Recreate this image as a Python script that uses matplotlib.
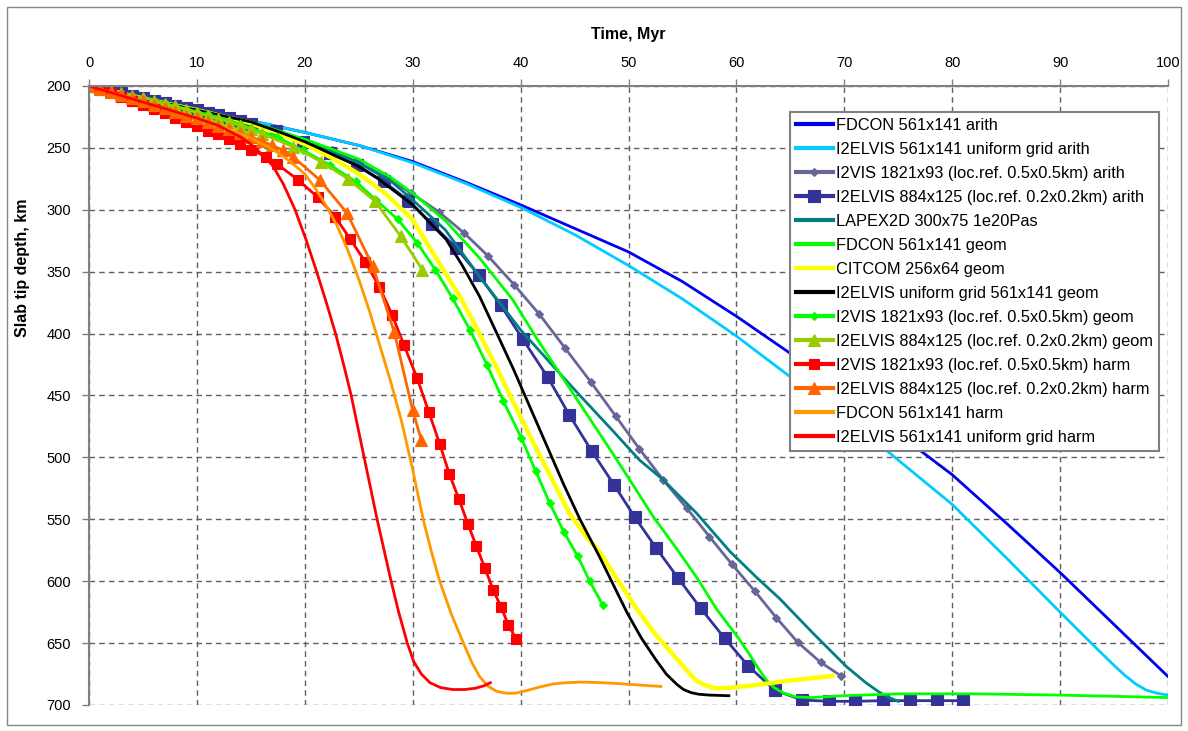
import matplotlib
matplotlib.use('Agg')
import matplotlib.pyplot as plt
from matplotlib.patches import Rectangle

plt.rcParams['font.family'] = ['Liberation Sans', 'DejaVu Sans']

# ---------------- data ----------------
x_ticks = [0, 10, 20, 30, 40, 50, 60, 70, 80, 90, 100]
y_ticks = [200, 250, 300, 350, 400, 450, 500, 550, 600, 650, 700]

labels = [
    "FDCON 561x141 arith",
    "I2ELVIS 561x141 uniform grid arith",
    "I2VIS 1821x93 (loc.ref. 0.5x0.5km) arith",
    "I2ELVIS 884x125 (loc.ref. 0.2x0.2km) arith",
    "LAPEX2D 300x75 1e20Pas",
    "FDCON 561x141 geom",
    "CITCOM 256x64 geom",
    "I2ELVIS uniform grid 561x141 geom",
    "I2VIS 1821x93 (loc.ref. 0.5x0.5km) geom",
    "I2ELVIS 884x125 (loc.ref. 0.2x0.2km) geom",
    "I2VIS 1821x93 (loc.ref. 0.5x0.5km) harm",
    "I2ELVIS 884x125 (loc.ref. 0.2x0.2km) harm",
    "FDCON 561x141 harm",
    "I2ELVIS 561x141 uniform grid harm",
]

t_fdcon_arith = [0, 5, 10, 15, 20, 25, 30, 35, 40, 45, 50, 55, 60, 65, 70, 75, 80, 85, 90, 95, 100]
d_fdcon_arith = [200, 210, 219.5, 228, 237.5, 248, 261, 278, 296, 315, 334, 358, 386, 416, 448, 481, 514, 553, 593, 635, 677]

t_i2elvis_uni_arith = [0, 5, 10, 15, 20, 25, 30, 35, 40, 45, 50, 55, 60, 65, 70, 74, 80, 85, 90, 93, 95, 96, 97, 98, 99, 100]
d_i2elvis_uni_arith = [200, 210, 219.5, 228, 237.5, 248, 262, 279, 298, 320, 345, 372, 402, 435, 468, 495, 538, 581, 625, 651, 668, 676, 683, 688, 690.5, 692]

t_i2vis_arith = [0, 1, 2, 3, 4, 5, 6, 7, 8, 9, 10, 11, 12, 13, 14, 15, 17.5, 20, 22.5, 25, 27.4, 29.85,
                 32.4, 34.8, 37.0, 39.4, 41.75, 44.1, 46.5, 48.8, 51.0, 53.2, 55.4, 57.5, 59.6, 61.7,
                 63.7, 65.7, 67.8, 69.7]
d_i2vis_arith = [200, 202, 204, 206, 208, 210, 212, 214, 216, 218, 220, 222, 224, 226.5, 229, 231.5, 237.5,
                 244, 252, 262, 273, 286.5, 301.5, 319, 337.5, 360.5, 384.5, 411.5, 439, 466.5, 493, 518,
                 541, 564, 586.5, 608, 629.5, 649.5, 665.5, 676.5]

t_i2elvis_ref_arith = [0, 1, 2, 3, 4, 5, 6, 7, 8, 9, 10, 11, 12, 13, 14, 15, 17.3, 19.8, 22.35, 24.85, 27.3,
                       29.6, 31.8, 34.0, 36.1, 38.15, 40.2, 42.5, 44.5, 46.6, 48.65, 50.6, 52.55, 54.6,
                       56.7, 58.9, 61.1, 63.55, 66.1, 68.6, 71.0, 73.6, 76.1, 78.6, 81.0]
d_i2elvis_ref_arith = [200, 202, 204, 206, 208, 210, 212, 214, 216, 218, 219.5, 221.5, 223.5, 226, 228.5,
                       231, 236, 245.5, 254.5, 264, 277, 292.5, 311.5, 330.5, 352.5, 377, 404.5, 435,
                       465.5, 495, 522, 548.5, 573, 597.5, 622, 646, 668.5, 688, 696, 697, 697, 696.5,
                       696.5, 696.5, 696.5]

t_lapex = [0, 5, 10, 15, 20, 25, 28, 30, 33, 36.2, 40, 43.3, 45.5, 48.6, 51, 53.2, 56.3, 59.4, 62, 64,
           67.1, 70.2, 72, 73.3, 74.3, 75]
d_lapex = [200, 210, 219.5, 229, 244, 262, 277, 292, 316, 354, 397, 429, 450, 479, 502, 518, 545, 576,
           598, 614, 642, 669, 682, 690, 694.5, 697]

t_fdcon_geom = [0, 5, 10, 15, 20, 25, 28, 30, 33.1, 36.2, 39.3, 41.5, 44.0, 46.2, 48.4, 50.4, 52.3, 54.4,
                56.4, 58.2, 60.2, 61.2, 62.0, 62.8, 63.5, 64.3, 65.5, 67, 69.9, 75, 82, 90, 100]
d_fdcon_geom = [200, 210, 219.5, 229, 243, 259, 274, 286.5, 309.5, 339, 373, 404, 437, 466, 495, 522, 548,
                573, 598, 623, 646, 659, 670, 680, 686, 690, 693.5, 694, 692.5, 691, 691, 692, 694]

t_citcom = [0, 5, 10, 15, 17.5, 20, 22.5, 25, 27.5, 30, 32.8, 34.5, 36, 37.7, 39.3, 41, 42.7, 44.5, 46,
            47.3, 49, 50.8, 52.5, 54.2, 55.3, 56.3, 57.2, 58.1, 59.5, 61.2, 63, 64.7, 66.8, 68.9]
d_citcom = [200, 210, 219.5, 230, 238, 247, 258, 271, 287, 308, 348, 372, 397, 426, 455, 485, 514, 545,
            563, 576, 599, 623, 643, 660, 671, 680.5, 684.5, 686.5, 686, 684.5, 682.5, 680.5, 678.5, 676.5]

t_i2elvis_uni_geom = [0, 5, 10, 15, 17.6, 20, 22.5, 25, 26.8, 30, 33.1, 34.6, 36.2, 37.7, 39.3, 40, 42, 44,
                      45.5, 47.3, 49.9, 51.2, 52.5, 53.5, 54.5, 55.1, 55.8, 56.5, 57.5, 59.3]
d_i2elvis_uni_geom = [200, 210, 219.5, 229, 237, 245, 255, 265, 275, 296, 324, 345, 370, 398, 428, 442,
                      482, 522, 550, 580, 626, 646, 663, 675, 683.5, 687.5, 690, 691.3, 692, 692.5]

t_i2vis_geom = [0, 1, 2, 3, 4, 5, 6, 7, 8, 9, 10, 11, 12, 13, 14, 15, 17.4, 19.85, 22.3, 24.7, 26.6, 28.6,
                30.4, 32.1, 33.7, 35.3, 36.9, 38.4, 40.05, 41.4, 42.7, 44.0, 45.3, 46.4, 47.6]
d_i2vis_geom = [200, 202, 204, 206, 208, 210, 212, 214, 216.5, 218.5, 221, 223, 225.5, 228, 231, 234, 241,
                252, 263.6, 277, 292, 307.6, 326.5, 348.5, 371.5, 397, 425.5, 454.5, 484, 511, 537, 560,
                580, 600, 619]

t_i2elvis_ref_geom = [0, 1, 2, 3, 4, 5, 6, 7, 8, 9, 10, 11, 12, 13, 14, 15, 16, 18.9, 21.5, 24.0, 26.5,
                      28.9, 30.9]
d_i2elvis_ref_geom = [200, 202, 204, 206, 208, 210, 212, 214.5, 216.5, 219, 221.5, 224, 226.5, 229, 232,
                      235, 238.5, 249, 261, 275, 293, 321.5, 348.5]

t_i2vis_harm = [0, 1, 2, 3, 4, 5, 6, 7, 8, 9, 10, 11, 12, 13, 14, 15, 16.4, 17.4, 19.35, 21.2, 22.8, 24.2,
                25.6, 26.9, 28.1, 29.2, 30.4, 31.5, 32.5, 33.4, 34.3, 35.1, 35.9, 36.7, 37.45, 38.2,
                38.85, 39.6]
d_i2vis_harm = [200, 203, 206, 209, 212, 215, 218.5, 222, 225.5, 229, 232.5, 236, 238.5, 243, 247, 251.5,
                257, 262.8, 275.7, 289.8, 305.5, 323.5, 342, 362, 385, 409.5, 435.7, 463.5, 489, 513.5,
                534, 553.5, 571.6, 589.7, 606.8, 621, 635, 647]

t_i2elvis_ref_harm = [0, 1, 2, 3, 4, 5, 6, 7, 8, 9, 10, 11, 12, 13, 14, 15, 16, 17, 18, 18.9, 21.4, 23.9,
                      26.3, 28.3, 30.0, 30.8]
d_i2elvis_ref_harm = [200, 202.5, 205, 207.5, 210, 212.5, 215.5, 218, 221, 224, 226, 229, 232, 235, 238,
                      241, 244.5, 248, 252, 257, 276, 302.5, 345.5, 399, 462, 486]

t_fdcon_harm = [0, 5, 10, 13, 15, 17, 18.5, 20, 21, 22, 23, 24, 25, 26, 27, 28, 29, 30, 31, 31.7, 32.5,
                33.6, 34.7, 35.5, 36.2, 37, 37.8, 38.7, 39.5, 40.5, 41.75, 43, 44.2, 45.5, 47, 48.7, 50.4,
                51.7, 53]
d_fdcon_harm = [200, 213, 226, 235, 242, 251, 260, 271, 283, 297, 313, 333, 356, 382, 411, 440, 472, 510,
                551, 575, 600, 627, 650, 666, 677, 685, 689, 690.5, 690.5, 688.5, 685.5, 683, 682, 681.5,
                681.8, 682.5, 683.5, 684.3, 685]

t_i2elvis_uni_harm = [0, 5, 10, 12, 14, 15, 16, 17, 18, 19.1, 20.15, 21.1, 22.0, 22.85, 23.6, 24.3, 24.9,
                      25.5, 26.1, 26.7, 27.35, 28.0, 28.7, 29.5, 30.1, 30.8, 31.6, 32.6, 33.7, 34.8, 35.8,
                      36.6, 37.2]
d_i2elvis_uni_harm = [200, 213, 226, 232, 241, 247, 255, 264, 279, 300, 325, 350, 375, 400, 425, 450, 475,
                      500, 525, 550, 575, 600, 625, 650, 665, 675, 682, 686, 687.5, 687.5, 686.5, 684.5, 682]

series = [
    (t_fdcon_arith, d_fdcon_arith),
    (t_i2elvis_uni_arith, d_i2elvis_uni_arith),
    (t_i2vis_arith, d_i2vis_arith),
    (t_i2elvis_ref_arith, d_i2elvis_ref_arith),
    (t_lapex, d_lapex),
    (t_fdcon_geom, d_fdcon_geom),
    (t_citcom, d_citcom),
    (t_i2elvis_uni_geom, d_i2elvis_uni_geom),
    (t_i2vis_geom, d_i2vis_geom),
    (t_i2elvis_ref_geom, d_i2elvis_ref_geom),
    (t_i2vis_harm, d_i2vis_harm),
    (t_i2elvis_ref_harm, d_i2elvis_ref_harm),
    (t_fdcon_harm, d_fdcon_harm),
    (t_i2elvis_uni_harm, d_i2elvis_uni_harm),
]

# ---------------- styles ----------------
styles = [
    dict(color='#0000EE', lw=2.0),
    dict(color='#00CCFF', lw=2.0),
    dict(color='#666699', lw=2.0, marker='D', ms=4.5),
    dict(color='#333399', lw=2.0, marker='s', ms=8.5),
    dict(color='#008080', lw=2.0),
    dict(color='#00FF00', lw=2.0),
    dict(color='#FFFF00', lw=3.2),
    dict(color='#000000', lw=2.0),
    dict(color='#00FF00', lw=2.0, marker='D', ms=4.5),
    dict(color='#99CC00', lw=2.0, marker='^', ms=8.0),
    dict(color='#FF0000', lw=2.0, marker='s', ms=7.5),
    dict(color='#FF6600', lw=2.0, marker='^', ms=8.0),
    dict(color='#FF9900', lw=2.0),
    dict(color='#FF0000', lw=2.0),
]

W, H = 1188, 731
fig = plt.figure(figsize=(W / 100, H / 100), dpi=100)
fig.patch.set_facecolor('white')
fig.add_artist(Rectangle((7 / W, 1 - 725 / H), (1181 - 7) / W, (725 - 7) / H,
                         transform=fig.transFigure, fill=False, edgecolor='#888888', lw=1.0))

ax = fig.add_axes([89 / W, 1 - 705 / H, (1168 - 89) / W, (705 - 86) / H])

for (t, d), lab, st in zip(series, labels, styles):
    kw = dict(color=st['color'], lw=st['lw'], label=lab, solid_joinstyle='round')
    if 'marker' in st:
        kw.update(marker=st['marker'], markersize=st['ms'], markerfacecolor=st['color'],
                  markeredgecolor=st['color'], markeredgewidth=0.8)
    ax.plot(t, d, **kw)

ax.set_xlim(0, 100)
ax.set_ylim(700, 200)
ax.xaxis.tick_top()
ax.xaxis.set_label_position('top')
ax.set_xticks(x_ticks)
ax.set_yticks(y_ticks)
ax.tick_params(axis='both', direction='out', length=5, width=1, color='#808080', labelsize=10.5)
ax.tick_params(axis='x', pad=6.5)
ax.tick_params(axis='y', pad=8)
ax.grid(True, linestyle=(0, (4, 3)), color='#606060', linewidth=1.0)
ax.set_axisbelow(True)
for s in ['right', 'bottom']:
    ax.spines[s].set_visible(False)
for s in ['top', 'left']:
    ax.spines[s].set_color('#808080')
    ax.spines[s].set_linewidth(1.5)

ax.set_xlabel('Time, Myr', fontsize=11.5, fontweight='bold', labelpad=12)
ax.set_ylabel('Slab tip depth, km', fontsize=11.5, fontweight='bold')
ax.yaxis.set_label_coords(-0.0547, 0.706)

leg = ax.legend(loc='upper left', bbox_to_anchor=(0.6497, 0.958), fontsize=11.8,
                frameon=True, fancybox=False, framealpha=1, edgecolor='#808080',
                handlelength=2.25, handletextpad=0.2, labelspacing=0.55, borderpad=0.35,
                borderaxespad=0)
leg.get_frame().set_linewidth(1.5)
for h in leg.legend_handles:
    h.set_linewidth(3)

fig.savefig('out.png', dpi=100, facecolor='white')
